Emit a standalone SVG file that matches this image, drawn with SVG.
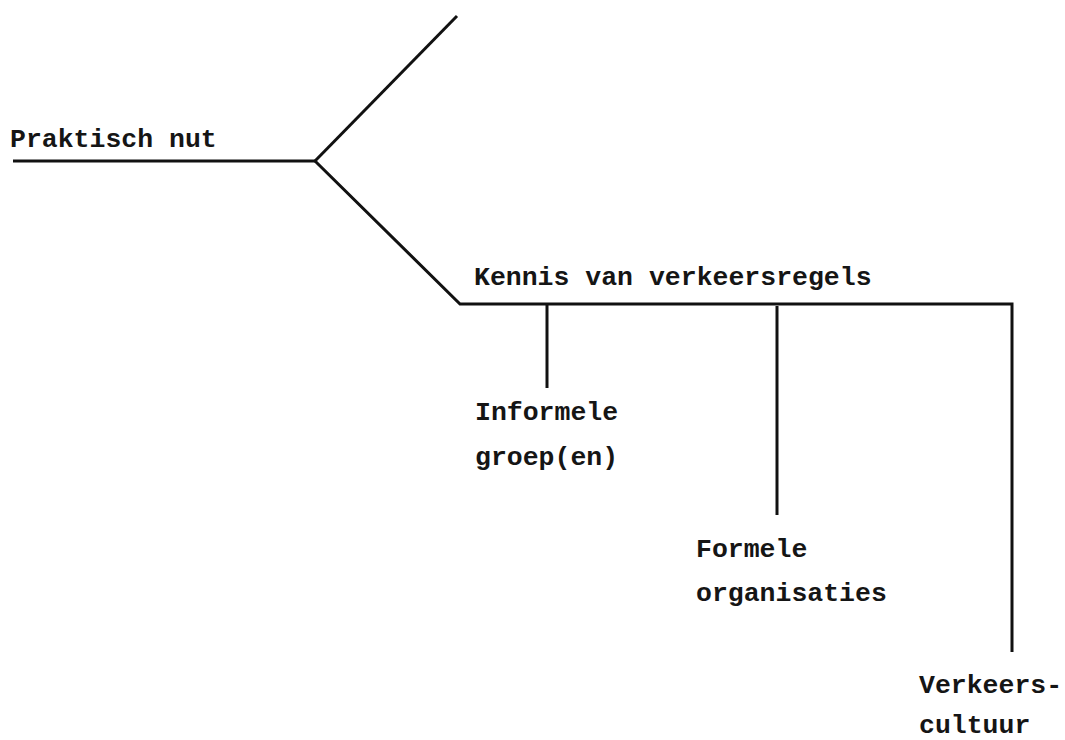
<svg xmlns="http://www.w3.org/2000/svg" width="1065" height="740" viewBox="0 0 1065 740">
  <style>
    .ln { fill: none; stroke: #111; stroke-width: 3; stroke-linecap: butt; stroke-linejoin: miter; }
    .lbl { font-family: "Liberation Mono", "DejaVu Sans Mono", monospace; font-size: 26.5px; font-weight: bold; fill: #151515; }
  </style>
  <rect width="1065" height="740" fill="#ffffff"/>

  <!-- connectors -->
  <g id="connectors">
    <path class="ln" d="M13 161 H315"/>
    <path class="ln" d="M315 161 L457 16"/>
    <path class="ln" d="M315 161 L460 304 H1012 V652"/>
    <path class="ln" d="M547 304 V388"/>
    <path class="ln" d="M777 306 V515"/>
  </g>

  <!-- nodes -->
  <g id="node-praktisch-nut">
    <text class="lbl" x="10" y="147">Praktisch nut</text>
  </g>
  <g id="node-kennis">
    <text class="lbl" x="474" y="285">Kennis van verkeersregels</text>
  </g>
  <g id="node-informele-groepen">
    <text class="lbl" x="475" y="420">Informele</text>
    <text class="lbl" x="475" y="465">groep(en)</text>
  </g>
  <g id="node-formele-organisaties">
    <text class="lbl" x="696" y="557">Formele</text>
    <text class="lbl" x="696" y="601">organisaties</text>
  </g>
  <g id="node-verkeerscultuur">
    <text class="lbl" x="919" y="693">Verkeers-</text>
    <text class="lbl" x="919" y="733">cultuur</text>
  </g>
</svg>
